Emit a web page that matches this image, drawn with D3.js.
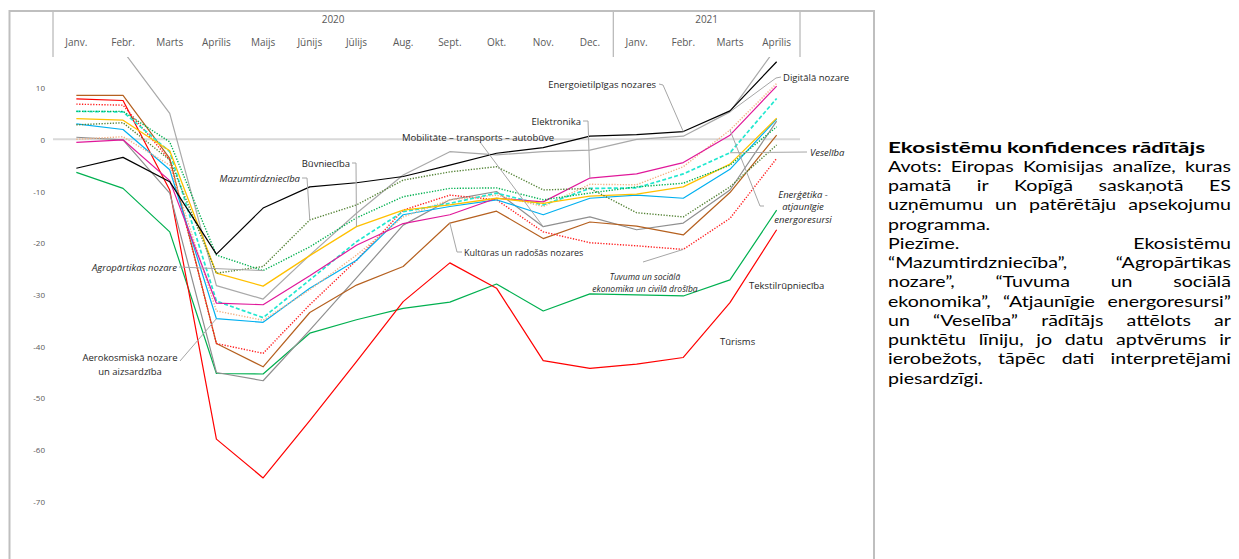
<!DOCTYPE html>
<html><head><meta charset="utf-8">
<script src="https://cdn.jsdelivr.net/npm/d3@7"></script>
<style>body{margin:0;background:#fff;} svg{display:block;}</style>
</head><body>
<svg id="c" width="1239" height="559"></svg>
<script>
// ---------- DATA ----------
const months = ["Janv.","Febr.","Marts","Aprīlis","Maijs","Jūnijs","Jūlijs","Aug.","Sept.","Okt.","Nov.","Dec.","Janv.","Febr.","Marts","Aprīlis"];
const years = ["2020","2021"];
const yearSpans = [[0,11],[12,15]];
const yTicks = [10,0,-10,-20,-30,-40,-50,-60,-70];

const energoietilpigas = [-5.6,-3.5,-8.2,-22.2,-13.3,-9.2,-8.4,-7.2,-5.0,-2.7,-1.6,0.6,0.9,1.5,5.5,15.0];
const digitala        = [17.5,17.1,5.0,-28.3,-30.9,-22.4,-14.3,-6.9,-2.4,-3.0,-2.4,-2.1,0.0,0.6,5.3,17.8];
const elektronika     = [-0.6,-0.1,-8.0,-31.7,-32.0,-26.4,-20.5,-16.3,-14.6,-11.4,-12.1,-7.5,-6.7,-4.5,0.8,10.3];
const mobilitate      = [0.4,-0.1,-10.4,-45.1,-46.7,-36.9,-26.8,-16.6,-11.7,-10.1,-16.9,-15.0,-17.5,-16.2,-9.8,3.5];
const veseliba        = [5.4,5.3,-2.4,-31.3,-34.5,-27.2,-19.8,-14.0,-12.4,-10.4,-12.7,-9.5,-9.4,-6.7,-2.6,7.9];
const atjaunigie      = [0.0,0.5,-5.0,-33.2,-35.0,-29.1,-22.4,-15.0,-11.7,-10.8,-13.0,-8.7,-8.8,-5.3,1.8,10.8];
const buvnieciba      = [4.0,3.7,-2.2,-25.9,-28.4,-22.5,-16.9,-13.7,-12.7,-11.4,-12.4,-11.0,-10.6,-9.2,-4.8,4.1];
const mazumtirdz      = [2.8,3.2,-4.0,-25.9,-24.6,-15.6,-12.7,-7.9,-6.3,-5.3,-9.8,-9.5,-14.2,-15.0,-9.2,-1.1];
const kulturas        = [8.5,8.5,-3.7,-39.5,-44.0,-33.5,-28.2,-24.6,-16.2,-13.9,-19.2,-16.0,-16.8,-18.5,-10.3,0.8];
const tuvuma          = [6.8,6.6,-4.0,-39.5,-41.4,-32.0,-23.4,-13.7,-10.8,-11.7,-17.9,-20.0,-20.6,-21.3,-15.3,-3.7];
const agropartikas    = [5.4,5.4,-0.5,-22.4,-25.4,-20.8,-15.2,-11.1,-9.5,-9.4,-11.7,-10.4,-9.2,-8.5,-5.0,2.4];
const tekstil         = [-6.4,-9.5,-17.9,-45.3,-45.4,-37.5,-34.9,-32.7,-31.5,-28.0,-33.2,-29.9,-30.1,-30.3,-27.2,-13.7];
const aerokosmiska    = [3.0,1.9,-5.9,-34.7,-35.4,-28.8,-23.4,-14.6,-13.0,-11.7,-14.6,-11.4,-10.8,-11.4,-5.8,3.9];
const turisms         = [7.8,7.5,-9.8,-58.0,-65.5,-54.4,-43.0,-31.4,-23.9,-28.8,-42.8,-44.3,-43.5,-42.2,-31.6,-17.5];

const seriesNames = ["Tekstilrūpniecība","Tūrisms","Mobilitāte – transports – autobūve","Digitālā nozare","Kultūras un radošās nozares","Tuvuma","Aerokosmiskā","Atjaunīgie","Veselība","Elektronika","Būvniecība","Mazumtirdzniecība","Agropārtikas","Energoietilpīgas"];
const seriesValues = [tekstil,turisms,mobilitate,digitala,kulturas,tuvuma,aerokosmiska,atjaunigie,veseliba,elektronika,buvnieciba,mazumtirdz,agropartikas,energoietilpigas];

// ---------- STYLES ----------
const styles = [
  {c:"#00b050", d:null, w:1.2},
  {c:"#ff0000", d:null, w:1.2},
  {c:"#8f8f8f", d:null, w:1.2},
  {c:"#a9a9a9", d:null, w:1.2},
  {c:"#b5601f", d:null, w:1.2},
  {c:"#ff2020", d:"1.3 1.5", w:1.4},
  {c:"#00b0f0", d:null, w:1.2},
  {c:"#f4b183", d:"1.3 1.5", w:1.4},
  {c:"#22e8d0", d:"4 2.2", w:1.7},
  {c:"#e0189a", d:null, w:1.2},
  {c:"#ffc000", d:null, w:1.3},
  {c:"#548235", d:"1.3 1.5", w:1.4},
  {c:"#00b050", d:"1.3 1.5", w:1.4},
  {c:"#000000", d:null, w:1.2}
];

const svg = d3.select("#c");
const font = "'Open Sans', 'Liberation Sans', sans-serif";

const x = d3.scaleBand().domain(d3.range(months.length)).range([53, 800]);
const cx = i => x(i) + x.bandwidth()/2;
const y = d3.scaleLinear().domain([-70, 10]).range([501.2, 87.6]);
const plotTop = 57;

// frame
svg.append("rect").attr("x",9.5).attr("y",11).attr("width",864.5).attr("height",560)
  .attr("fill","none").attr("stroke","#bfbfbf").attr("stroke-width",2);

// header
const hdr = svg.append("g");
[x(0), x(12), x(15)+x.bandwidth()].forEach(px => {
  hdr.append("line").attr("x1",px).attr("x2",px).attr("y1",12).attr("y2",plotTop)
    .attr("stroke","#a6a6a6").attr("stroke-width",1);
});
hdr.selectAll("text.m").data(months).join("text").attr("class","m")
  .attr("x",(d,i)=>cx(i)).attr("y",42).attr("dominant-baseline","central")
  .attr("text-anchor","middle").attr("font-family",font).attr("font-size",10)
  .attr("fill","#595959").text(d=>d);
hdr.selectAll("text.yr").data(years).join("text").attr("class","yr")
  .attr("x",(d,i)=>(x(yearSpans[i][0]) + x(yearSpans[i][1]) + x.bandwidth())/2)
  .attr("y",19).attr("dominant-baseline","central").attr("text-anchor","middle")
  .attr("font-family",font).attr("font-size",10).attr("fill","#595959").text(d=>d);

// y tick labels
svg.selectAll("text.yt").data(yTicks).join("text").attr("class","yt")
  .attr("x",45).attr("y",d=>y(d)).attr("dominant-baseline","central")
  .attr("text-anchor","end").attr("font-family",font).attr("font-size",8)
  .attr("fill","#595959").text(d=>d);

// zero line
svg.append("line").attr("x1",x(0)).attr("x2",x(15)+x.bandwidth())
  .attr("y1",y(0)).attr("y2",y(0)).attr("stroke","#d9d9d9").attr("stroke-width",2);

// clip
svg.append("clipPath").attr("id","clip").append("rect")
  .attr("x",x(0)).attr("y",plotTop).attr("width",800-x(0)).attr("height",559-plotTop);

const line = d3.line().x((d,i)=>cx(i)).y(d=>y(d));
const lg = svg.append("g").attr("clip-path","url(#clip)");
seriesValues.forEach((vals,k) => {
  const s = styles[k];
  lg.append("path").attr("d", line(vals)).attr("fill","none")
    .attr("stroke", s.c).attr("stroke-width", s.w)
    .attr("stroke-dasharray", s.d).attr("stroke-linejoin","round");
});

// ---------- LABELS ----------
const labels = [
  {t:["Energoietilpīgas nozares"], x:656, y:84, a:"end", lead:[[659,84],[663,85]], s:13, i:13},
  {t:["Digitālā nozare"], x:783, y:77, a:"start", lead:[[781,77],[776,78]], s:3, i:14},
  {t:["Elektronika"], x:581, y:121, a:"end", lead:[[583,121],[588,121]], s:9, i:11},
  {t:["Mobilitāte – transports – autobūve"], x:402, y:137, a:"start", lead:[[480,142]], s:2, i:10},
  {t:["Veselība"], x:810, y:152, a:"start", it:true, lead:[[807,152]], s:8, i:14},
  {t:["Enerģētika -","atjaunīgie","energoresursi"], x:803, y:194, a:"middle", it:true, lh:12.8, lead:[[764,206],[760,206]], s:7, i:14},
  {t:["Būvniecība"], x:350, y:163, a:"end", lead:[[352,163],[356,163]], s:10, i:6},
  {t:["Mazumtirdzniecība"], x:300, y:178, a:"end", it:true, lead:[[302,178],[307,178]], s:11, i:5},
  {t:["Kultūras un radošās nozares"], x:464, y:252, a:"start", fs:9, lead:[[462,252],[457,252]], s:4, i:8},
  {t:["Tuvuma un sociālā","ekonomika un civilā drošība"], x:645, y:276, a:"middle", it:true, fs:8.5, lh:12, lead:[[643,262]], s:5, i:13},
  {t:["Agropārtikas nozare"], x:177, y:267, a:"end", it:true, lead:[[179,267]], s:12, i:4},
  {t:["Tekstilrūpniecība"], x:749, y:285, a:"start"},
  {t:["Aerokosmiskā nozare","un aizsardzība"], x:130, y:357, a:"middle", lh:14, lead:[[180,361]], s:6, i:3},
  {t:["Tūrisms"], x:720, y:341, a:"start"}
];
const labG = svg.append("g");
labels.forEach(L => {
  if (L.lead) {
    const pts = L.lead.concat([[cx(L.i), y(seriesValues[L.s][L.i])]]);
    labG.append("path").attr("d", d3.line()(pts)).attr("fill","none")
      .attr("stroke","#a6a6a6").attr("stroke-width",1);
  }
  L.t.forEach((tx,j) => {
    labG.append("text").attr("x",L.x).attr("y",L.y + j*(L.lh||12))
      .attr("dominant-baseline","central").attr("text-anchor",L.a)
      .attr("font-family",font).attr("font-size",L.fs||9.5)
      .attr("font-style",L.it?"italic":"normal").attr("fill","#262626").text(tx);
  });
});

// ---------- RIGHT PANEL ----------
const panelLines = [
  {w:"Ekosistēmu konfidences rādītājs", b:true, j:false},
  {w:"Avots: Eiropas Komisijas analīze, kuras", j:true},
  {w:"pamatā ir Kopīgā saskaņotā ES", j:true},
  {w:"uzņēmumu un patērētāju apsekojumu", j:true},
  {w:"programma.", j:false},
  {w:"Piezīme. Ekosistēmu", j:true},
  {w:"“Mazumtirdzniecība”, “Agropārtikas", j:true},
  {w:"nozare”, “Tuvuma un sociālā", j:true},
  {w:"ekonomika”, “Atjaunīgie energoresursi”", j:true},
  {w:"un “Veselība” rādītājs attēlots ar", j:true},
  {w:"punktētu līniju, jo datu aptvērums ir", j:true},
  {w:"ierobežots, tāpēc dati interpretējami", j:true},
  {w:"piesardzīgi.", j:false}
];
const px0 = 888, px1 = 1231, pFs = 15.8;
const pFont = "Lato, 'Open Sans', sans-serif";
const pg = svg.append("g");
panelLines.forEach((L,k) => {
  const yb = 152.5 + k*19.25;
  const sx = L.b ? 1.42 : 1.24;
  const words = L.w.split(" ");
  const nodes = words.map(wd => pg.append("text").attr("y",yb)
    .attr("font-family",pFont).attr("font-size",pFs)
    .attr("font-weight",L.b?"bold":"normal").attr("fill","#000").text(wd));
  let widths = nodes.map(n => n.node().getComputedTextLength() * sx);
  let total = d3.sum(widths);
  const avail = px1 - px0;
  const minGap = pFs * 0.22;
  if (total + minGap*(words.length-1) > avail) {
    const f = (avail - minGap*(words.length-1)) / total;
    widths = widths.map(w => w*f); total = d3.sum(widths);
  }
  nodes.forEach((n,i) => n.attr("textLength", widths[i]).attr("lengthAdjust","spacingAndGlyphs"));
  const gap = (L.j && words.length>1) ? (avail-total)/(words.length-1) : pFs*0.3;
  let cur = px0;
  nodes.forEach((n,i) => { n.attr("x",cur); cur += widths[i] + gap; });
});
</script>
</body></html>
